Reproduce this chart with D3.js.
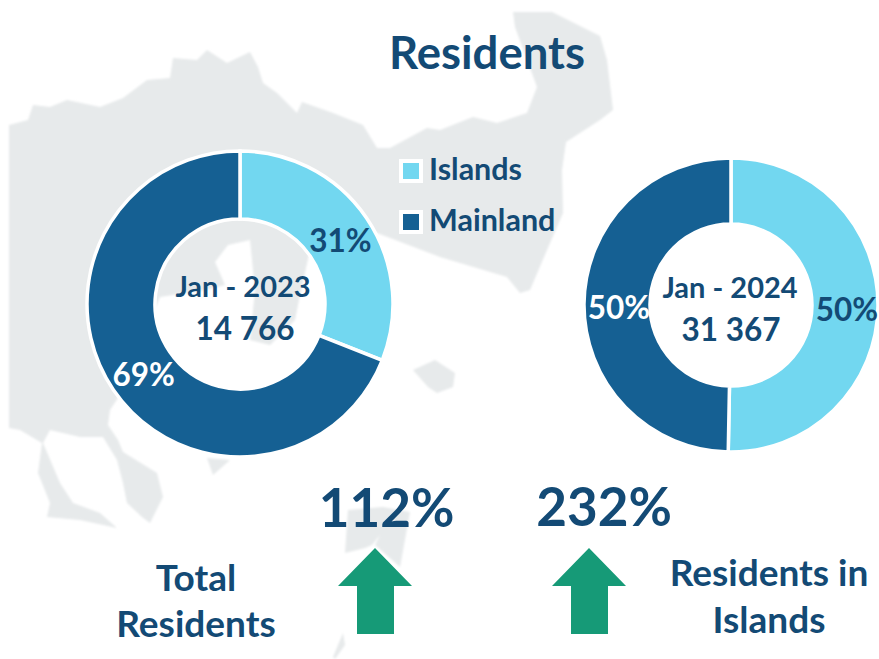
<!DOCTYPE html>
<html>
<head>
<meta charset="utf-8">
<script src="https://cdn.jsdelivr.net/npm/d3@7"></script>
<style>
  html, body { margin: 0; padding: 0; background: #fff; }
  text { font-family: Lato, "Open Sans", sans-serif; font-weight: 700; fill: #134a75; }
</style>
</head>
<body>
<div id="chart"></div>
<script>
const categories = ["Islands", "Mainland"];
const periods = ["Jan - 2023", "Jan - 2024"];
const totals = ["14 766", "31 367"];
const islandShare = [31, 50.3];
const mainlandShare = [69, 49.7];
const shareLabels = [["31%", "69%"], ["50%", "50%"]];
const changes = ["112%", "232%"];

const width = 879, height = 659;
const colors = d3.scaleOrdinal().domain(categories).range(["#72d7f0", "#156093"]);

const svg = d3.select("#chart").append("svg")
  .attr("width", width)
  .attr("height", height);

const defs = svg.append("defs");
defs.append("filter").attr("id", "soft")
  .append("feGaussianBlur").attr("stdDeviation", 0.8);

// faded map behind everything, traced by eye
const mapShapes = [
  "M9,125 L28,120 L33,105 L50,107 L67,100 L100,107 L123,98 L147,80 L170,78 L173,58 L197,60 L207,50 L227,63 L250,52 L258,67 L263,83 L277,93 L297,113 L302,102 L333,113 L363,125 L377,148 L390,148 L427,128 L440,130 L473,117 L497,123 L527,113 L537,87 L515,27 L513,12 L552,12 L600,36 L607,60 L613,110 L600,120 L566,142 L562,170 L563,213 L547,250 L530,290 L520,293 L507,277 L440,257 L377,233 L310,250 L300,295 L295,320 L270,345 L250,340 L255,290 L250,240 L228,245 L215,262 L225,285 L205,290 L160,297 L118,398 L110,410 L108,425 L118,440 L123,452 L157,473 L163,497 L150,523 L142,517 L127,503 L123,483 L117,460 L103,437 L80,437 L50,430 L43,443 L60,483 L73,503 L100,513 L117,528 L80,520 L47,517 L50,503 L38,473 L42,443 L20,430 L9,428 Z",
  "M207,458 L230,460 L213,475 Z",
  "M413,370 L435,360 L455,373 L453,387 L437,393 L428,387 Z",
  "M345,553 L348,510 L383,507 L410,512 L404,545 L400,567 L375,545 L380,535 L372,545 L365,548 Z",
  "M333,657 L343,633 L345,645 L335,659 Z"
];

svg.append("g").attr("class", "map")
  .attr("filter", "url(#soft)")
  .selectAll("path")
  .data(mapShapes)
  .join("path")
  .attr("d", (d) => d)
  .attr("fill", "#e7eaeb");

svg.append("text")
  .attr("x", 487)
  .attr("y", 69)
  .attr("text-anchor", "middle")
  .style("font-size", "45.5px")
  .text("Residents");

// one donut per period
const donuts = [
  { cx: 240, cy: 304, outer: 153, inner: 85, periodX: 3, totalX: 5 },
  { cx: 731, cy: 305, outer: 147, inner: 81, periodX: -1, totalX: 0 },
];

const pie = d3.pie().sort(null).value((d) => d.value);

donuts.forEach((box, i) => {
  const g = svg.append("g").attr("transform", `translate(${box.cx},${box.cy})`);
  const arc = d3.arc().innerRadius(box.inner).outerRadius(box.outer);
  const slices = pie([
    { name: categories[0], value: islandShare[i] },
    { name: categories[1], value: mainlandShare[i] },
  ]);

  g.selectAll("path")
    .data(slices)
    .join("path")
    .attr("d", arc)
    .attr("fill", (d) => colors(d.data.name))
    .attr("stroke", "#fff")
    .attr("stroke-width", 3.5);

  g.selectAll(".share")
    .data(slices)
    .join("text")
    .attr("class", "share")
    .attr("transform", (d) => {
      const c = arc.centroid(d);
      return `translate(${c[0] + 2},${c[1] + 4})`;
    })
    .attr("dy", "0.35em")
    .attr("text-anchor", "middle")
    .style("font-size", "31.5px")
    .style("fill", (d) => (d.data.name === categories[1] ? "#fff" : "#134a75"))
    .text((d, j) => shareLabels[i][j]);

  g.append("text")
    .attr("x", box.periodX)
    .attr("y", -7)
    .attr("text-anchor", "middle")
    .style("font-size", "29px")
    .text(periods[i]);

  g.append("text")
    .attr("x", box.totalX)
    .attr("y", 36)
    .attr("text-anchor", "middle")
    .style("font-size", "31.5px")
    .text(totals[i]);
});

// legend
const legend = svg.append("g")
  .selectAll("g")
  .data(categories)
  .join("g")
  .attr("transform", (d, i) => `translate(403,${163 + i * 51})`);

legend.append("rect")
  .attr("x", -2)
  .attr("y", -2)
  .attr("width", 20)
  .attr("height", 20)
  .attr("fill", (d) => colors(d))
  .attr("stroke", "#fff")
  .attr("stroke-width", 4);

legend.append("text")
  .attr("x", 26)
  .attr("y", 17)
  .style("font-size", "30.5px")
  .text((d) => d);

// growth figures with arrows
const arrowXs = [375, 589];
const arrow = "M0,0 L37,38 L19,38 L19,86 L-18,86 L-18,38 L-37,38 Z";

svg.append("g")
  .selectAll("text")
  .data(changes)
  .join("text")
  .attr("x", (d, i) => [386.5, 604][i])
  .attr("y", (d, i) => [527, 526][i])
  .attr("text-anchor", "middle")
  .style("font-size", "53px")
  .text((d) => d);

svg.append("g")
  .selectAll("path")
  .data(arrowXs)
  .join("path")
  .attr("transform", (d) => `translate(${d},548)`)
  .attr("d", arrow)
  .attr("fill", "#169a77");

const notes = [
  { x: 196, y: 591, text: "Total" },
  { x: 196, y: 637, text: "Residents" },
  { x: 769, y: 586, text: "Residents in" },
  { x: 769, y: 633, text: "Islands" },
];

svg.append("g")
  .selectAll("text")
  .data(notes)
  .join("text")
  .attr("x", (d) => d.x)
  .attr("y", (d) => d.y)
  .attr("text-anchor", "middle")
  .style("font-size", "37px")
  .text((d) => d.text);
</script>
</body>
</html>
